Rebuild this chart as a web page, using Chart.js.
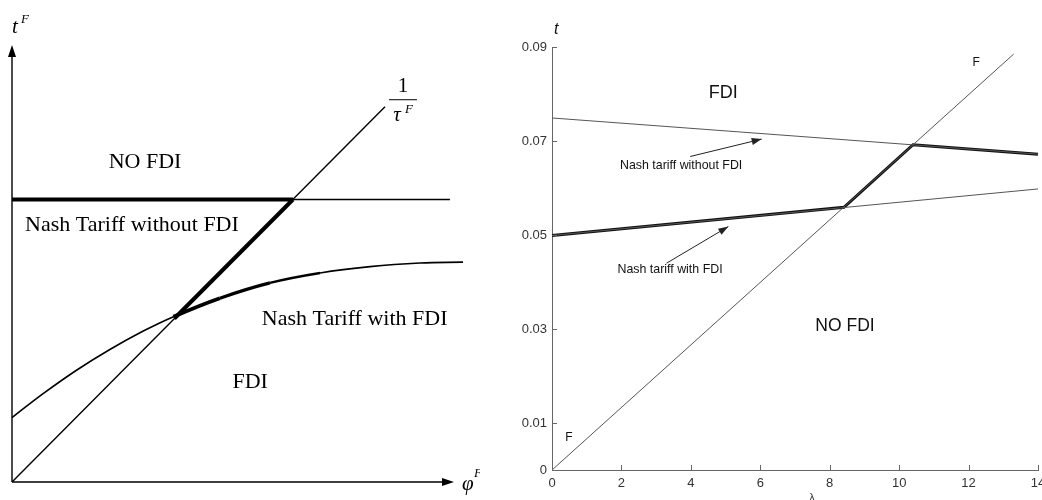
<!DOCTYPE html>
<html>
<head>
<meta charset="utf-8">
<script src="https://cdn.jsdelivr.net/npm/chart.js@4.4.0/dist/chart.umd.min.js"></script>
<style>
html, body { margin: 0; padding: 0; background: #fff; overflow: hidden; }
body { width: 1042px; height: 500px; position: relative; }
#leftBox { position: absolute; left: 0; top: 0; width: 480px; height: 500px; }
#rightBox { position: absolute; left: 520px; top: 0; width: 540px; height: 500px; }
</style>
</head>
<body>
<div id="leftBox"><canvas id="leftChart" width="480" height="500"></canvas></div>
<div id="rightBox"><canvas id="rightChart" width="540" height="500"></canvas></div>
<script>
// Left panel: stylised diagram (arbitrary units)
const leftCurvePhi = [0, 0.69, 1.43, 2.17, 2.91, 3.58, 4.61, 5.72, 6.83, 7.94, 9.05, 10.0];
const leftCurveT   = [1.43, 1.96, 2.48, 2.94, 3.35, 3.67, 4.08, 4.42, 4.64, 4.78, 4.86, 4.88];
const leftFlatPhi = [0, 9.71];
const leftFlatT   = [6.27, 6.27];
const leftDiagPhi = [0, 8.27];
const leftDiagT   = [0, 8.33];
const leftThickFlatPhi = [0, 6.23];
const leftThickFlatT   = [6.27, 6.27];
const leftThickDiagPhi = [3.60, 6.23];
const leftThickDiagT   = [3.63, 6.27];

// Right panel: numerical example
const lambdaTicks = [0, 2, 4, 6, 8, 10, 12, 14];
const tTicks = [0, 0.01, 0.03, 0.05, 0.07, 0.09];
const fLambda = [0, 13.3];
const fT = [0, 0.0885];
const noFdiLambda = [0, 14];
const noFdiT = [0.0749, 0.0672];
const withFdiLambda = [0, 14];
const withFdiT = [0.0499, 0.0598];
const envLambda = [0, 8.41, 10.40, 14];
const envT = [0.0499, 0.0559, 0.0692, 0.0672];

const toXY = (xs, ys) => xs.map((x, i) => ({x: x, y: ys[i]}));

function line(data, width, color, tension) {
    return {
        data: data,
        showLine: true,
        borderColor: color,
        borderWidth: width,
        pointRadius: 0,
        clip: false,
        tension: tension || 0
    };
}

function text(ctx, s, x, y, font, align, color) {
    ctx.save();
    ctx.font = font;
    ctx.textAlign = align || 'center';
    ctx.textBaseline = 'middle';
    ctx.fillStyle = color || '#000';
    ctx.fillText(s, x, y);
    ctx.restore();
}

function arrowHead(ctx, x0, y0, x1, y1, len, half) {
    const a = Math.atan2(y1 - y0, x1 - x0);
    ctx.beginPath();
    ctx.moveTo(x1, y1);
    ctx.lineTo(x1 - len * Math.cos(a) + half * Math.sin(a), y1 - len * Math.sin(a) - half * Math.cos(a));
    ctx.lineTo(x1 - len * Math.cos(a) - half * Math.sin(a), y1 - len * Math.sin(a) + half * Math.cos(a));
    ctx.closePath();
    ctx.fill();
}

// ---------- left chart ----------
// the curve gets heavier just after it meets the 1/tau line, then tapers off
const curveSegWidth = c => {
    const x = c.p0.parsed.x;
    if (x < 3.5) return 1.6;
    if (x < 4.6) return 3.8;
    if (x < 5.7) return 3.2;
    if (x < 6.8) return 2.4;
    return 1.6;
};

const leftNotes = [
    {text: 'NO FDI', x: 2.95, y: 7.09, align: 'center'},
    {text: 'Nash Tariff without FDI', x: 0.29, y: 5.69, align: 'left'},
    {text: 'Nash Tariff with FDI', x: 5.54, y: 3.62, align: 'left'},
    {text: 'FDI', x: 5.28, y: 2.22, align: 'center'}
];

const leftDecor = {
    id: 'leftDecor',
    afterDraw(chart) {
        const ctx = chart.ctx;
        const xs = chart.scales.x, ys = chart.scales.y;
        const ox = xs.getPixelForValue(0), oy = ys.getPixelForValue(0);
        const topY = ys.getPixelForValue(9.7);
        const rightX = xs.getPixelForValue(9.8);
        ctx.save();
        ctx.strokeStyle = '#000';
        ctx.fillStyle = '#000';
        ctx.lineWidth = 1.4;
        ctx.beginPath();
        ctx.moveTo(ox, oy); ctx.lineTo(ox, topY + 8);
        ctx.moveTo(ox, oy); ctx.lineTo(rightX - 8, oy);
        ctx.stroke();
        arrowHead(ctx, ox, oy, ox, topY, 12, 4);
        arrowHead(ctx, ox, oy, rightX, oy, 12, 4);
        ctx.restore();

        const serif = '"Liberation Serif", "DejaVu Serif", serif';
        leftNotes.forEach(n => {
            text(ctx, n.text, xs.getPixelForValue(n.x), ys.getPixelForValue(n.y), '22px ' + serif, n.align);
        });
        // t^F
        text(ctx, 't', ox, topY - 18, 'italic 21px ' + serif, 'left');
        text(ctx, 'F', ox + 9, topY - 25, 'italic 13px ' + serif, 'left');
        // phi^F
        text(ctx, 'φ', rightX + 8, oy + 2, 'italic 21px ' + serif, 'left');
        text(ctx, 'F', rightX + 20, oy - 8, 'italic 13px ' + serif, 'left');
        // 1 / tau^F
        const fx = xs.getPixelForValue(8.27) + 18, fy = ys.getPixelForValue(8.33) - 7;
        text(ctx, '1', fx, fy - 13, '21px ' + serif, 'center');
        ctx.save();
        ctx.strokeStyle = '#000';
        ctx.lineWidth = 1;
        ctx.beginPath();
        ctx.moveTo(fx - 14, fy); ctx.lineTo(fx + 14, fy);
        ctx.stroke();
        ctx.restore();
        text(ctx, 'τ', fx - 6, fy + 16, 'italic 21px ' + serif, 'center');
        text(ctx, 'F', fx + 2, fy + 10, 'italic 13px ' + serif, 'left');
    }
};

const curveSet = line(toXY(leftCurvePhi, leftCurveT), 1.6, '#000', 0.4);
curveSet.segment = { borderWidth: curveSegWidth };

new Chart(document.getElementById('leftChart').getContext('2d'), {
    type: 'scatter',
    data: {
        datasets: [
            line(toXY(leftFlatPhi, leftFlatT), 1.4, '#000'),
            line(toXY(leftDiagPhi, leftDiagT), 1.4, '#000'),
            curveSet,
            line(toXY(leftThickFlatPhi, leftThickFlatT), 4, '#000'),
            line(toXY(leftThickDiagPhi, leftThickDiagT), 4, '#000')
        ]
    },
    options: {
        responsive: false,
        animation: false,
        devicePixelRatio: 1,
        layout: { padding: { left: 12, right: 17, top: 45, bottom: 18 } },
        scales: {
            x: { type: 'linear', min: 0, max: 10, display: false },
            y: { type: 'linear', min: 0, max: 9.7, display: false }
        },
        plugins: { legend: { display: false }, tooltip: { enabled: false } }
    },
    plugins: [leftDecor]
});

// ---------- right chart ----------
const rightNotes = [
    {text: 'FDI', x: 4.93, y: 0.0802, size: 18},
    {text: 'NO FDI', x: 8.44, y: 0.0306, size: 17.5},
    {text: 'Nash tariff without FDI', x: 3.72, y: 0.0647, size: 12.4},
    {text: 'Nash tariff with FDI', x: 3.40, y: 0.0426, size: 12.4},
    {text: 'F', x: 12.22, y: 0.0866, size: 12},
    {text: 'F', x: 0.49, y: 0.0068, size: 12}
];
const rightArrows = [
    {from: [3.98, 0.0667], to: [6.04, 0.0704]},
    {from: [3.30, 0.0440], to: [5.08, 0.0518]}
];

const sans = '"Liberation Sans", Arial, sans-serif';

const rightDecor = {
    id: 'rightDecor',
    afterDraw(chart) {
        const ctx = chart.ctx;
        const xs = chart.scales.x, ys = chart.scales.y;
        const area = chart.chartArea;
        ctx.save();
        ctx.strokeStyle = '#666';
        ctx.lineWidth = 1;
        ctx.beginPath();
        lambdaTicks.forEach(v => {
            const px = Math.round(xs.getPixelForValue(v)) + 0.5;
            ctx.moveTo(px, area.bottom); ctx.lineTo(px, area.bottom - 5);
        });
        tTicks.forEach(v => {
            const py = Math.round(ys.getPixelForValue(v)) + 0.5;
            ctx.moveTo(area.left, py); ctx.lineTo(area.left + 5, py);
        });
        ctx.stroke();

        ctx.strokeStyle = '#222';
        ctx.fillStyle = '#222';
        ctx.lineWidth = 1;
        rightArrows.forEach(a => {
            const x0 = xs.getPixelForValue(a.from[0]), y0 = ys.getPixelForValue(a.from[1]);
            const x1 = xs.getPixelForValue(a.to[0]), y1 = ys.getPixelForValue(a.to[1]);
            ctx.beginPath();
            ctx.moveTo(x0, y0); ctx.lineTo(x1, y1);
            ctx.stroke();
            arrowHead(ctx, x0, y0, x1, y1, 10, 3.5);
        });
        ctx.restore();

        rightNotes.forEach(n => {
            text(ctx, n.text, xs.getPixelForValue(n.x), ys.getPixelForValue(n.y), n.size + 'px ' + sans, 'center', '#111');
        });
        text(ctx, 't', area.left + 2, area.top - 17, 'italic 16px ' + sans, 'left', '#111');
        text(ctx, 'λ', xs.getPixelForValue(7.49), area.bottom + 28, '11px ' + sans, 'center', '#333');
    }
};

new Chart(document.getElementById('rightChart').getContext('2d'), {
    type: 'scatter',
    data: {
        datasets: [
            line(toXY(fLambda, fT), 1, '#555'),
            line(toXY(noFdiLambda, noFdiT), 1, '#555'),
            line(toXY(withFdiLambda, withFdiT), 1, '#555'),
            line(toXY(envLambda, envT), 3, '#111')
        ]
    },
    options: {
        responsive: false,
        animation: false,
        devicePixelRatio: 1,
        layout: { padding: { left: 0, right: 22, top: 47, bottom: 0 } },
        scales: {
            x: {
                type: 'linear', min: 0, max: 14,
                afterBuildTicks: s => { s.ticks = lambdaTicks.map(v => ({value: v})); },
                afterFit: s => { s.height = 30; },
                grid: { display: false, drawTicks: false },
                border: { color: '#666', width: 1 },
                ticks: { padding: 6, color: '#333', font: { family: sans, size: 13 }, maxRotation: 0, autoSkip: false }
            },
            y: {
                type: 'linear', min: 0, max: 0.09,
                afterBuildTicks: s => { s.ticks = tTicks.map(v => ({value: v})); },
                afterFit: s => { s.width = 32; },
                grid: { display: false, drawTicks: false },
                border: { color: '#666', width: 1 },
                ticks: {
                    padding: 5, color: '#333', font: { family: sans, size: 13 }, autoSkip: false,
                    callback: v => (v === 0 ? '0' : v.toFixed(2))
                }
            }
        },
        plugins: { legend: { display: false }, tooltip: { enabled: false } }
    },
    plugins: [rightDecor]
});
</script>
</body>
</html>
